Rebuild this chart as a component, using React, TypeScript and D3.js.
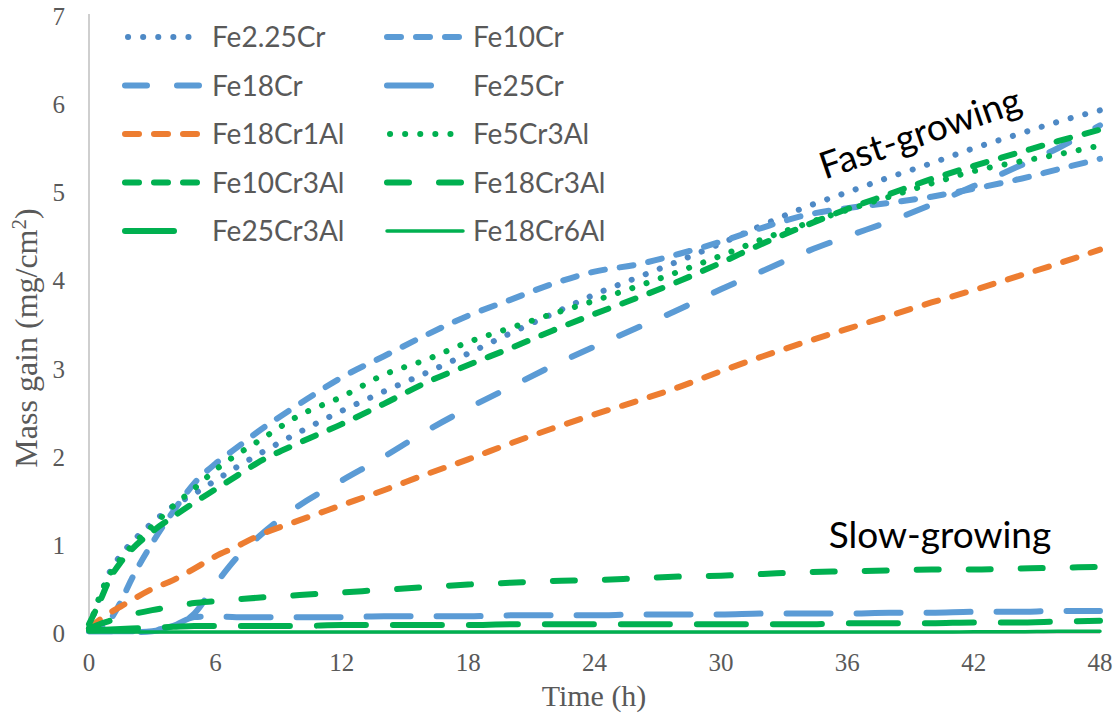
import React from 'react';
import * as d3 from 'd3';

// ---- data (time in hours, mass gain in mg/cm²) ----
const hours = [0, 0.5, 1, 1.5, 2, 3, 4, 5, 6, 7, 8, 10, 12, 14, 16, 18, 20, 22, 24, 26, 28, 30, 32, 34, 36, 38, 40, 42, 44, 46, 48];

const fe225Cr = [0.05, 0.4, 0.7, 0.88, 1.02, 1.25, 1.44, 1.58, 1.73, 1.88, 2.02, 2.28, 2.52, 2.74, 2.95, 3.17, 3.4, 3.62, 3.84, 4.03, 4.22, 4.42, 4.63, 4.83, 5.0, 5.17, 5.33, 5.5, 5.65, 5.8, 5.93];
const fe10Cr = [0.03, 0.06, 0.15, 0.35, 0.6, 1.02, 1.38, 1.7, 1.92, 2.1, 2.28, 2.6, 2.9, 3.14, 3.38, 3.6, 3.78, 3.96, 4.1, 4.18, 4.3, 4.44, 4.6, 4.74, 4.82, 4.88, 4.95, 5.04, 5.14, 5.26, 5.38];
const fe18Cr = [0.02, 0.02, 0.02, 0.01, 0.01, 0.02, 0.08, 0.22, 0.55, 0.85, 1.08, 1.45, 1.73, 2.0, 2.29, 2.55, 2.79, 3.03, 3.25, 3.46, 3.67, 3.9, 4.11, 4.32, 4.5, 4.67, 4.86, 5.07, 5.28, 5.5, 5.76];
const fe25Cr = [0.02, 0.02, 0.02, 0.02, 0.02, 0.03, 0.08, 0.18, 0.19, 0.18, 0.18, 0.18, 0.18, 0.19, 0.19, 0.19, 0.2, 0.2, 0.2, 0.21, 0.21, 0.21, 0.22, 0.22, 0.22, 0.23, 0.23, 0.24, 0.24, 0.25, 0.25];
const fe18Cr1Al = [0.05, 0.15, 0.23, 0.3, 0.37, 0.5, 0.6, 0.73, 0.87, 0.98, 1.1, 1.28, 1.45, 1.62, 1.8, 1.97, 2.15, 2.32, 2.48, 2.63, 2.79, 2.97, 3.14, 3.3, 3.45, 3.6, 3.75, 3.89, 4.04, 4.19, 4.35];
const fe5Cr3Al = [0.05, 0.41, 0.67, 0.84, 0.98, 1.21, 1.44, 1.64, 1.85, 2.02, 2.17, 2.47, 2.68, 2.93, 3.1, 3.3, 3.46, 3.62, 3.77, 3.93, 4.1, 4.28, 4.47, 4.64, 4.8, 4.95, 5.1, 5.24, 5.34, 5.43, 5.53];
const fe10Cr3Al = [0.1, 0.35, 0.62, 0.8, 0.94, 1.15, 1.32, 1.48, 1.63, 1.78, 1.93, 2.16, 2.37, 2.6, 2.84, 3.04, 3.23, 3.43, 3.62, 3.8, 3.99, 4.2, 4.42, 4.62, 4.81, 4.98, 5.15, 5.3, 5.44, 5.58, 5.71];
const fe18Cr3Al = [0.05, 0.1, 0.14, 0.18, 0.21, 0.26, 0.3, 0.34, 0.36, 0.38, 0.4, 0.43, 0.46, 0.49, 0.52, 0.55, 0.57, 0.59, 0.6, 0.62, 0.64, 0.65, 0.67, 0.69, 0.7, 0.71, 0.72, 0.72, 0.73, 0.74, 0.75];
const fe25Cr3Al = [0.03, 0.035, 0.04, 0.045, 0.05, 0.06, 0.07, 0.08, 0.08, 0.08, 0.08, 0.08, 0.09, 0.09, 0.09, 0.09, 0.1, 0.1, 0.1, 0.1, 0.1, 0.1, 0.1, 0.1, 0.11, 0.11, 0.11, 0.12, 0.12, 0.13, 0.14];
const fe18Cr6Al = [0.01, 0.01, 0.01, 0.01, 0.01, 0.01, 0.01, 0.01, 0.01, 0.01, 0.01, 0.01, 0.01, 0.01, 0.01, 0.01, 0.01, 0.01, 0.01, 0.01, 0.01, 0.01, 0.01, 0.01, 0.01, 0.01, 0.01, 0.015, 0.015, 0.02, 0.02];

const seriesNames = ['Fe2.25Cr', 'Fe10Cr', 'Fe18Cr', 'Fe25Cr', 'Fe18Cr1Al', 'Fe5Cr3Al', 'Fe10Cr3Al', 'Fe18Cr3Al', 'Fe25Cr3Al', 'Fe18Cr6Al'];
const seriesValues = [fe225Cr, fe10Cr, fe18Cr, fe25Cr, fe18Cr1Al, fe5Cr3Al, fe10Cr3Al, fe18Cr3Al, fe25Cr3Al, fe18Cr6Al];

const xTicks = [0, 6, 12, 18, 24, 30, 36, 42, 48];
const yTicks = [0, 1, 2, 3, 4, 5, 6, 7];

// ---- styles ----
const BLUE = '#5B9BD5';
const BLUE_DOT = '#4E89C5';
const ORANGE = '#ED7D31';
const GREEN = '#00B050';

type Style = { color: string; dash: string | null; width: number; swatch: number };
const styles: Style[] = [
  { color: BLUE_DOT, dash: '0.1 15', width: 6, swatch: 62 },
  { color: BLUE, dash: '14 15', width: 6, swatch: 80 },
  { color: BLUE, dash: '22 30', width: 6, swatch: 80 },
  { color: BLUE, dash: '44 26', width: 6, swatch: 58 },
  { color: ORANGE, dash: '14 15', width: 6, swatch: 80 },
  { color: GREEN, dash: '0.1 15', width: 6, swatch: 62 },
  { color: GREEN, dash: '14 15', width: 6, swatch: 80 },
  { color: GREEN, dash: '22 30', width: 6, swatch: 80 },
  { color: GREEN, dash: '49 27', width: 6, swatch: 58 },
  { color: GREEN, dash: null, width: 3.5, swatch: 76 },
];

const W = 1120;
const H = 715;
const x = d3.scaleLinear().domain([0, 48]).range([89, 1100]);
const y = d3.scaleLinear().domain([0, 7]).range([633, 16]);

const SERIF = '"Liberation Serif", "Times New Roman", serif';
const SANS = 'Lato, "Noto Sans", sans-serif';
const GRAY = '#595959';

export default function App() {
  const line = d3
    .line<number>()
    .x((_, i) => x(hours[i]))
    .y((v) => y(v))
    .curve(d3.curveMonotoneX);

  const legendCols = [125, 387];
  const legendTextCols = [212, 473];
  const legendRow0 = 37;
  const legendRowStep = 48.5;

  return (
    <svg
      width={W}
      height={H}
      viewBox={`0 0 ${W} ${H}`}
      style={{ position: 'absolute', left: 0, top: 0, background: '#fff' }}
    >
      <rect x={0} y={0} width={W} height={H} fill="#fff" />
      {/* axes */}
      <line x1={x(0)} x2={x(0)} y1={y(7) - 2} y2={y(0)} stroke="#CFCFCF" strokeWidth={2} />
      <line x1={x(0)} x2={x(48)} y1={y(0)} y2={y(0)} stroke="#CFCFCF" strokeWidth={2} />

      {/* y tick labels */}
      {yTicks.map((t) => (
        <text key={'y' + t} x={65} y={y(t) + 9} textAnchor="end" fontFamily={SERIF} fontSize={25} fill={GRAY}>
          {t}
        </text>
      ))}
      {/* x tick labels */}
      {xTicks.map((t) => (
        <text key={'x' + t} x={x(t)} y={671} textAnchor="middle" fontFamily={SERIF} fontSize={25} fill={GRAY}>
          {t}
        </text>
      ))}

      {/* axis titles */}
      <text x={594} y={706} textAnchor="middle" fontFamily={SERIF} fontSize={30} fill={GRAY}>
        Time (h)
      </text>
      <text
        transform={`translate(37, 338) rotate(-90)`}
        textAnchor="middle"
        fontFamily={SERIF}
        fontSize={32}
        fill={GRAY}
      >
        Mass gain (mg/cm<tspan dy={-11} fontSize={21}>2</tspan>
        <tspan dy={11}>)</tspan>
      </text>

      {/* series */}
      {seriesValues.map((vals, i) => {
        const s = styles[i];
        return (
          <path
            key={seriesNames[i]}
            d={line(vals) || ''}
            fill="none"
            stroke={s.color}
            strokeWidth={s.width}
            strokeDasharray={s.dash || undefined}
            strokeLinecap="round"
            strokeLinejoin="round"
          />
        );
      })}

      {/* legend */}
      {seriesNames.map((name, i) => {
        const s = styles[i];
        const col = i % 2;
        const row = Math.floor(i / 2);
        const cy = legendRow0 + row * legendRowStep;
        const x0 = legendCols[col] + (s.dash && s.dash.startsWith('0.1') ? 3 : 0);
        return (
          <g key={'lg' + name}>
            <line
              x1={x0}
              x2={x0 + s.swatch}
              y1={cy}
              y2={cy}
              stroke={s.color}
              strokeWidth={s.width}
              strokeDasharray={s.dash || undefined}
              strokeLinecap="round"
            />
            <text x={legendTextCols[col]} y={cy + 10} fontFamily={SANS} fontSize={28} fill={GRAY}>
              {name}
            </text>
          </g>
        );
      })}

      {/* annotations */}
      <text
        transform="translate(920, 133) rotate(-19)"
        textAnchor="middle"
        dy="0.35em"
        fontFamily={SANS}
        fontSize={37}
        fill="#000"
      >
        Fast-growing
      </text>
      <text x={940} y={548} textAnchor="middle" fontFamily={SANS} fontSize={37} fill="#000">
        Slow-growing
      </text>
    </svg>
  );
}
